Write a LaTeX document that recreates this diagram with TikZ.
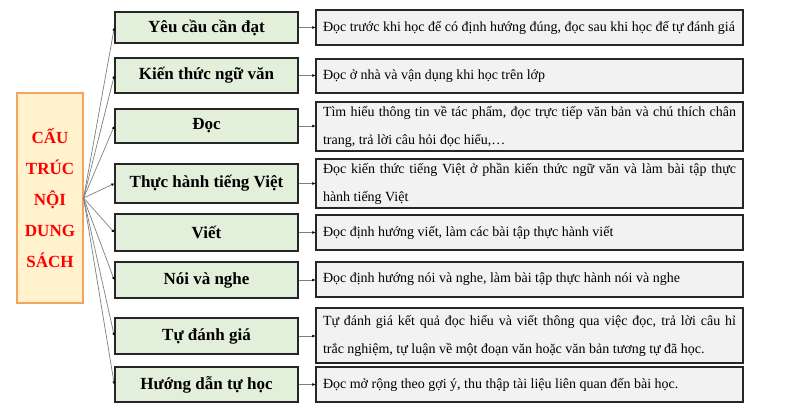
\documentclass[tikz,border=0pt]{standalone}
\usepackage{fontspec}
\setmainfont{Liberation Serif}
\usetikzlibrary{arrows.meta}
\definecolor{midfill}{HTML}{E2EFDA}
\definecolor{rfill}{HTML}{F2F2F2}
\definecolor{lfill}{HTML}{FFF2CC}
\definecolor{lborder}{HTML}{F4A460}
\definecolor{lred}{HTML}{FF0000}
\definecolor{conn}{HTML}{7F7F7F}
\begin{document}
\begin{tikzpicture}[x=1pt,y=-1pt,
  midbox/.style={draw=black!85,line width=1.4pt,fill=midfill,minimum width=183pt,inner sep=0pt,font=\fontsize{17}{20}\selectfont\bfseries},
  rbox/.style={draw=black!85,line width=1.4pt,fill=rfill,minimum width=427pt,text width=413pt,align=justify,inner sep=0pt,font=\fontsize{14}{28}\selectfont},
  lbox/.style={draw=lborder,line width=1.2pt,fill=lfill,minimum width=66pt,minimum height=210pt,align=center,text=lred,font=\fontsize{17}{31}\selectfont\bfseries},
  fan/.style={draw=conn,line width=0.7pt,-{Latex[length=3pt,width=3pt,black]}},
  link/.style={draw=conn,line width=0.7pt,-{Latex[length=3pt,width=3pt,black]}}
]
\useasboundingbox (0,0) rectangle (785,416);
\node[lbox] (L) at (50,198) {CẤU\\TRÚC\\NỘI\\DUNG\\SÁCH};

\node[midbox,minimum height=31pt] (m1) at (206.5,27.5) {Yêu cầu cần đạt};
\node[midbox,minimum height=35pt] (m2) at (206.5,75.5) {Kiến thức ngữ văn};
\node[midbox,minimum height=34pt] (m3) at (206.5,126) {Đọc};
\node[midbox,minimum height=39pt] (m4) at (206.5,183.5) {Thực hành tiếng Việt};
\node[midbox,minimum height=37pt] (m5) at (206.5,232.5) {Viết};
\node[midbox,minimum height=36pt] (m6) at (206.5,280) {Nói và nghe};
\node[midbox,minimum height=36pt] (m7) at (206.5,336) {Tự đánh giá};
\node[midbox,minimum height=35pt] (m8) at (206.5,384.5) {Hướng dẫn tự học};

\node[rbox,minimum height=35pt] (r1) at (529.5,27.5) {Đọc trước khi học để có định hướng đúng, đọc sau khi học để tự đánh giá};
\node[rbox,minimum height=34pt] (r2) at (529.5,76) {Đọc ở nhà và vận dụng khi học trên lớp};
\node[rbox,minimum height=49pt] (r3) at (529.5,126.5) {Tìm hiểu thông tin về tác phẩm, đọc trực tiếp văn bản và chú thích chân\linebreak trang, trả lời câu hỏi đọc hiểu,…};
\node[rbox,minimum height=49pt] (r4) at (529.5,183.5) {Đọc kiến thức tiếng Việt ở phần kiến thức ngữ văn và làm bài tập thực\linebreak hành tiếng Việt};
\node[rbox,minimum height=35pt] (r5) at (529.5,232.5) {Đọc định hướng viết, làm các bài tập thực hành viết};
\node[rbox,minimum height=35pt] (r6) at (529.5,279.5) {Đọc định hướng nói và nghe, làm bài tập thực hành nói và nghe};
\node[rbox,minimum height=55pt] (r7) at (529.5,335.5) {Tự đánh giá kết quả đọc hiểu và viết thông qua việc đọc, trả lời câu hỉ\linebreak trắc nghiệm, tự luận về một đoạn văn hoặc văn bản tương tự đã học.};
\node[rbox,minimum height=35pt] (r8) at (529.5,384.5) {Đọc mở rộng theo gợi ý, thu thập tài liệu liên quan đến bài học.};

\foreach \i in {1,...,8}{
  \draw[fan] (L.east) -- (m\i.west);
  \draw[link] (m\i.east) -- (m\i.east -| r\i.west);
}
\end{tikzpicture}
\end{document}
